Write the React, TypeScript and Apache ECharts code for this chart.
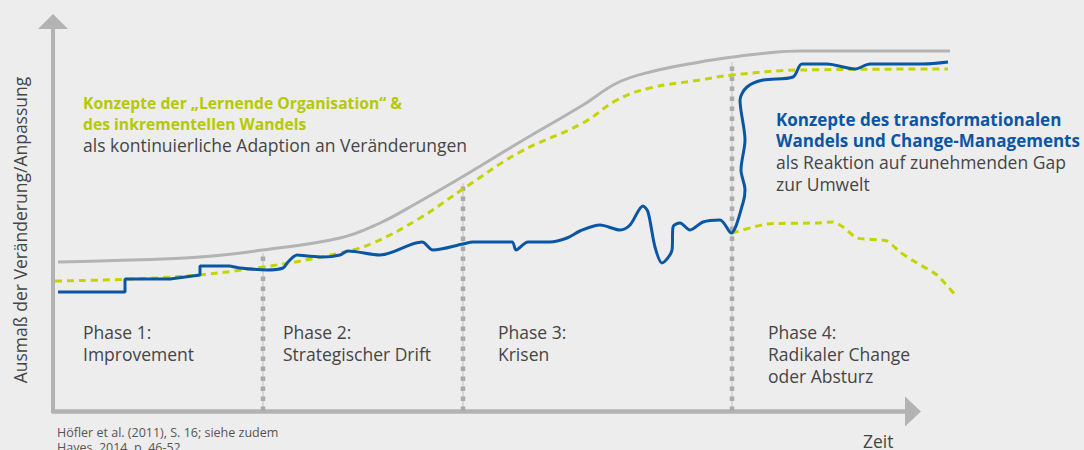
import React, { useEffect, useRef } from "react";
import * as echarts from "echarts";

// Umwelt-Entwicklung (grau)
const environmentLine: number[][] = [
  [3, 149], [45, 150], [145, 154], [208, 161], [285, 173], [325, 188], [362, 208],
  [402, 231], [465, 269], [528, 306], [562, 328], [595, 339], [645, 349], [678, 354],
  [712, 358], [745, 360], [895, 360],
];

// Lernende Organisation (grün gestrichelt)
const learningLine: number[][] = [
  [0, 130], [118, 134], [208, 144], [285, 158], [318, 168], [365, 193], [408, 222],
  [465, 259], [528, 288], [562, 311], [595, 323], [645, 331], [677, 336], [745, 341],
  [893, 342],
];

// Absturz (grün gestrichelt, fallend)
const declineLine: number[][] = [
  [677, 178], [712, 187], [762, 188], [778, 189], [788, 184], [802, 173], [832, 170],
  [845, 159], [862, 148], [882, 136], [902, 114],
];

// Organisation (blau) – Stufen
const orgSteps: number[][] = [
  [3, 119], [70, 119], [70, 132], [115, 132], [145, 136], [145, 145], [175, 145],
];

// Organisation (blau) – Verlauf
const orgCurve: number[][] = [
  [175, 145], [185, 143], [212, 141], [228, 143], [233, 149], [242, 156], [252, 155],
  [268, 154], [285, 156], [293, 160], [325, 156], [367, 169], [378, 161], [408, 167],
  [418, 169], [457, 169], [461, 161], [473, 169], [495, 169], [512, 173], [525, 180],
  [545, 186], [565, 181], [575, 186], [588, 205], [593, 199], [600, 164], [607, 148],
  [617, 161], [618, 184], [625, 188], [635, 181], [648, 189], [665, 191], [676, 178],
  [688, 208], [690, 221], [686, 241], [690, 271], [685, 311], [692, 324], [708, 331],
  [738, 334], [747, 347], [772, 347], [800, 342], [815, 347], [868, 347], [893, 349],
];

const phaseBoundaries = [208, 408, 677];
const phaseTops = [158, 228, 349];

const phaseLabels: string[][] = [
  ["Phase 1:", "Improvement"],
  ["Phase 2:", "Strategischer Drift"],
  ["Phase 3:", "Krisen"],
  ["Phase 4:", "Radikaler Change", "oder Absturz"],
];
const phaseLabelX = [83, 283, 498, 768];

const greenTitle = ["Konzepte der „Lernende Organisation“ &", "des inkrementellen Wandels"];
const greenSub = ["als kontinuierliche Adaption an Veränderungen"];
const blueTitle = ["Konzepte des transformationalen", "Wandels und Change-Managements"];
const blueSub = ["als Reaktion auf zunehmenden Gap", "zur Umwelt"];
const yAxisTitle = "Ausmaß der Veränderung/Anpassung";
const xAxisTitle = "Zeit";
const sourceLines = ["Höfler et al. (2011), S. 16; siehe zudem", "Hayes, 2014, p. 46-52"];

const FONT = '"Open Sans", "Noto Sans", sans-serif';
const DARK = "#454545";
const GREEN_TEXT = "#b6c900";
const GREEN_LINE = "#c4d400";
const BLUE = "#0b56a4";
const GRAY = "#b3b3b3";
const REG = 17.5;

function textEl(text: string, x: number, baseline: number, size: number, color: string, bold = false) {
  return {
    type: "text",
    x,
    y: baseline - size * 0.34,
    silent: true,
    style: {
      text,
      fill: color,
      font: `${bold ? "bold " : ""}${size}px ${FONT}`,
      textAlign: "left",
      textVerticalAlign: "middle",
    },
  };
}

const hiddenAxis = {
  axisLine: { show: false },
  axisTick: { show: false },
  axisLabel: { show: false },
  splitLine: { show: false },
};

export default function App() {
  const ref = useRef<HTMLDivElement>(null);
  useEffect(() => {
    const chart = echarts.init(ref.current!, null, { renderer: "svg" });

    const graphics: any[] = [];
    greenTitle.forEach((t, i) => graphics.push(textEl(t, 83, 108 + i * 21.5, 15.7, GREEN_TEXT, true)));
    greenSub.forEach((t, i) => graphics.push(textEl(t, 83, 151 + i * 21.5, REG, DARK)));
    blueTitle.forEach((t, i) => graphics.push(textEl(t, 776, 125 + i * 21.5, 17, BLUE, true)));
    blueSub.forEach((t, i) => graphics.push(textEl(t, 776, 168 + i * 21.5, REG, DARK)));
    phaseLabels.forEach((lines, p) =>
      lines.forEach((t, i) => graphics.push(textEl(t, phaseLabelX[p], 338 + i * 22, REG, DARK)))
    );
    graphics.push(textEl(xAxisTitle, 863, 446.5, REG, DARK));
    sourceLines.forEach((t, i) => graphics.push(textEl(t, 57, 437 + i * 15, 12.5, "#555555")));
    graphics.push({
      type: "text",
      x: 20,
      y: 230,
      rotation: Math.PI / 2,
      silent: true,
      style: {
        text: yAxisTitle,
        fill: DARK,
        font: `${REG}px ${FONT}`,
        textAlign: "center",
        textVerticalAlign: "middle",
      },
    });

    const boundarySeries: any[] = [];
    phaseBoundaries.forEach((x, i) => {
      boundarySeries.push({
        type: "line",
        data: [[x, 0], [x, phaseTops[i]]],
        symbol: "none",
        silent: true,
        z: 1,
        lineStyle: { color: "#d0d0d0", width: 1.5 },
      });
      boundarySeries.push({
        type: "line",
        data: [[x, 0], [x, phaseTops[i]]],
        symbol: "none",
        silent: true,
        z: 1,
        lineStyle: { color: "#aaaaaa", width: 4.5, type: [4.5, 5.5] },
      });
    });

    chart.setOption({
      animation: false,
      backgroundColor: "#ededed",
      grid: [
        { left: 53, right: 72, top: 21.5, bottom: 39 },
        { left: 53, right: 171, top: 21.5, bottom: 38.5 },
      ],
      xAxis: [
        { type: "value", gridIndex: 0, min: -2, max: 957, ...hiddenAxis },
        {
          type: "value",
          gridIndex: 1,
          min: 0,
          max: 100,
          axisLine: {
            show: true,
            onZero: false,
            symbol: ["none", "triangle"],
            symbolSize: [30, 16],
            lineStyle: { color: GRAY, width: 4.5 },
          },
          axisTick: { show: false },
          axisLabel: { show: false },
          splitLine: { show: false },
        },
      ],
      yAxis: [
        { type: "value", gridIndex: 0, min: 0, max: 389.5, ...hiddenAxis },
        {
          type: "value",
          gridIndex: 1,
          min: 0,
          max: 100,
          axisLine: {
            show: true,
            onZero: false,
            symbol: ["none", "triangle"],
            symbolSize: [30, 15],
            lineStyle: { color: GRAY, width: 4 },
          },
          axisTick: { show: false },
          axisLabel: { show: false },
          splitLine: { show: false },
        },
      ],
      graphic: graphics,
      series: [
        ...boundarySeries,
        {
          type: "line",
          data: environmentLine,
          symbol: "none",
          smooth: 0.4,
          z: 2,
          lineStyle: { color: GRAY, width: 3 },
        },
        {
          type: "line",
          data: learningLine,
          symbol: "none",
          smooth: 0.4,
          z: 3,
          lineStyle: { color: GREEN_LINE, width: 3, type: [7, 5] },
        },
        {
          type: "line",
          data: declineLine,
          symbol: "none",
          smooth: 0.2,
          z: 3,
          lineStyle: { color: GREEN_LINE, width: 3, type: [7, 5] },
        },
        {
          type: "line",
          data: orgSteps,
          symbol: "none",
          z: 4,
          lineStyle: { color: BLUE, width: 3 },
        },
        {
          type: "line",
          data: orgCurve,
          symbol: "none",
          smooth: 0.3,
          z: 4,
          lineStyle: { color: BLUE, width: 3 },
        },
      ],
    });
    return () => chart.dispose();
  }, []);
  return (
    <div
      ref={ref}
      style={{ position: "fixed", left: 0, top: 0, width: 1084, height: 450, background: "#ededed" }}
    />
  );
}
